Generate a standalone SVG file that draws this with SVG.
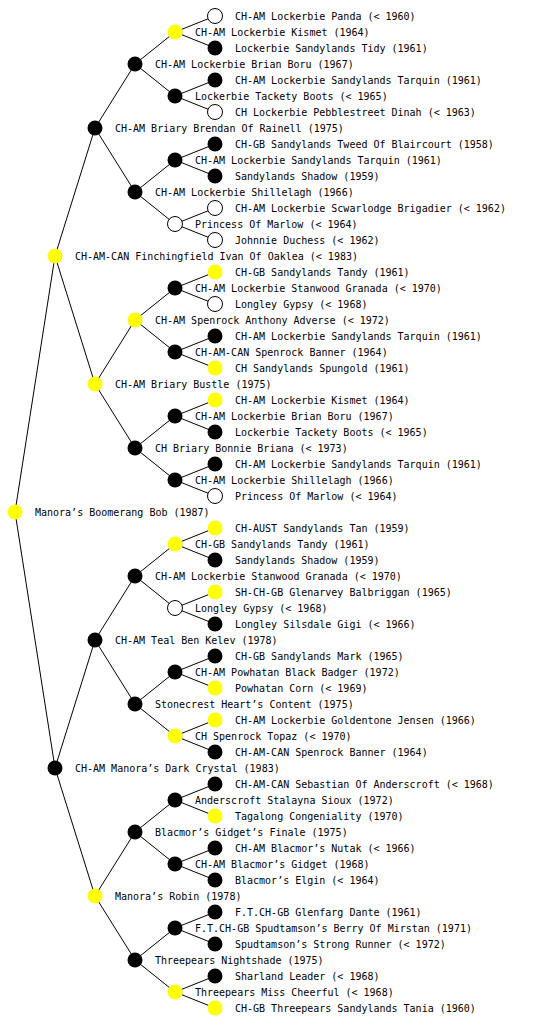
<svg xmlns="http://www.w3.org/2000/svg" width="560" height="1024" viewBox="0 0 560 1024">
<style>
.b{fill:#000}
.y{fill:#ffff00}
.o{fill:#fff;stroke:#000;stroke-width:1}
text{font-family:"DejaVu Sans Mono","Liberation Mono",monospace;font-size:10px;fill:#000}
.e{fill:none;stroke:#000;stroke-width:1}
</style>
<rect width="560" height="1024" fill="#fff"/>
<g id="connectors">
<path class="e" d="M15 512L55 256M15 512L55 768
M55 256L95 128M55 256L95 384M55 768L95 640M55 768L95 896
M95 128L135 64M95 128L135 192M95 384L135 320M95 384L135 448M95 640L135 576M95 640L135 704M95 896L135 832M95 896L135 960
M135 64L175 32M135 64L175 96M135 192L175 160M135 192L175 224M135 320L175 288M135 320L175 352M135 448L175 416M135 448L175 480
M135 576L175 544M135 576L175 608M135 704L175 672M135 704L175 736M135 832L175 800M135 832L175 864M135 960L175 928M135 960L175 992
M175 32L215 16M175 32L215 48M175 96L215 80M175 96L215 112M175 160L215 144M175 160L215 176M175 224L215 208M175 224L215 240
M175 288L215 272M175 288L215 304M175 352L215 336M175 352L215 368M175 416L215 400M175 416L215 432M175 480L215 464M175 480L215 496
M175 544L215 528M175 544L215 560M175 608L215 592M175 608L215 624M175 672L215 656M175 672L215 688M175 736L215 720M175 736L215 752
M175 800L215 784M175 800L215 816M175 864L215 848M175 864L215 880M175 928L215 912M175 928L215 944M175 992L215 976M175 992L215 1008"/>
</g>
<g id="n1"><circle class="o" cx="215" cy="16" r="7.5"/><text x="235" y="20">CH-AM Lockerbie Panda (&lt; 1960)</text></g>
<g id="n2"><circle class="y" cx="175" cy="32" r="7.5"/><text x="195" y="36">CH-AM Lockerbie Kismet (1964)</text></g>
<g id="n3"><circle class="b" cx="215" cy="48" r="7.5"/><text x="235" y="52">Lockerbie Sandylands Tidy (1961)</text></g>
<g id="n4"><circle class="b" cx="135" cy="64" r="7.5"/><text x="155" y="68">CH-AM Lockerbie Brian Boru (1967)</text></g>
<g id="n5"><circle class="b" cx="215" cy="80" r="7.5"/><text x="235" y="84">CH-AM Lockerbie Sandylands Tarquin (1961)</text></g>
<g id="n6"><circle class="b" cx="175" cy="96" r="7.5"/><text x="195" y="100">Lockerbie Tackety Boots (&lt; 1965)</text></g>
<g id="n7"><circle class="o" cx="215" cy="112" r="7.5"/><text x="235" y="116">CH Lockerbie Pebblestreet Dinah (&lt; 1963)</text></g>
<g id="n8"><circle class="b" cx="95" cy="128" r="7.5"/><text x="115" y="132">CH-AM Briary Brendan Of Rainell (1975)</text></g>
<g id="n9"><circle class="b" cx="215" cy="144" r="7.5"/><text x="235" y="148">CH-GB Sandylands Tweed Of Blaircourt (1958)</text></g>
<g id="n10"><circle class="b" cx="175" cy="160" r="7.5"/><text x="195" y="164">CH-AM Lockerbie Sandylands Tarquin (1961)</text></g>
<g id="n11"><circle class="b" cx="215" cy="176" r="7.5"/><text x="235" y="180">Sandylands Shadow (1959)</text></g>
<g id="n12"><circle class="b" cx="135" cy="192" r="7.5"/><text x="155" y="196">CH-AM Lockerbie Shillelagh (1966)</text></g>
<g id="n13"><circle class="o" cx="215" cy="208" r="7.5"/><text x="235" y="212">CH-AM Lockerbie Scwarlodge Brigadier (&lt; 1962)</text></g>
<g id="n14"><circle class="o" cx="175" cy="224" r="7.5"/><text x="195" y="228">Princess Of Marlow (&lt; 1964)</text></g>
<g id="n15"><circle class="o" cx="215" cy="240" r="7.5"/><text x="235" y="244">Johnnie Duchess (&lt; 1962)</text></g>
<g id="n16"><circle class="y" cx="55" cy="256" r="7.5"/><text x="75" y="260">CH-AM-CAN Finchingfield Ivan Of Oaklea (&lt; 1983)</text></g>
<g id="n17"><circle class="y" cx="215" cy="272" r="7.5"/><text x="235" y="276">CH-GB Sandylands Tandy (1961)</text></g>
<g id="n18"><circle class="b" cx="175" cy="288" r="7.5"/><text x="195" y="292">CH-AM Lockerbie Stanwood Granada (&lt; 1970)</text></g>
<g id="n19"><circle class="o" cx="215" cy="304" r="7.5"/><text x="235" y="308">Longley Gypsy (&lt; 1968)</text></g>
<g id="n20"><circle class="y" cx="135" cy="320" r="7.5"/><text x="155" y="324">CH-AM Spenrock Anthony Adverse (&lt; 1972)</text></g>
<g id="n21"><circle class="b" cx="215" cy="336" r="7.5"/><text x="235" y="340">CH-AM Lockerbie Sandylands Tarquin (1961)</text></g>
<g id="n22"><circle class="b" cx="175" cy="352" r="7.5"/><text x="195" y="356">CH-AM-CAN Spenrock Banner (1964)</text></g>
<g id="n23"><circle class="y" cx="215" cy="368" r="7.5"/><text x="235" y="372">CH Sandylands Spungold (1961)</text></g>
<g id="n24"><circle class="y" cx="95" cy="384" r="7.5"/><text x="115" y="388">CH-AM Briary Bustle (1975)</text></g>
<g id="n25"><circle class="y" cx="215" cy="400" r="7.5"/><text x="235" y="404">CH-AM Lockerbie Kismet (1964)</text></g>
<g id="n26"><circle class="b" cx="175" cy="416" r="7.5"/><text x="195" y="420">CH-AM Lockerbie Brian Boru (1967)</text></g>
<g id="n27"><circle class="b" cx="215" cy="432" r="7.5"/><text x="235" y="436">Lockerbie Tackety Boots (&lt; 1965)</text></g>
<g id="n28"><circle class="b" cx="135" cy="448" r="7.5"/><text x="155" y="452">CH Briary Bonnie Briana (&lt; 1973)</text></g>
<g id="n29"><circle class="b" cx="215" cy="464" r="7.5"/><text x="235" y="468">CH-AM Lockerbie Sandylands Tarquin (1961)</text></g>
<g id="n30"><circle class="b" cx="175" cy="480" r="7.5"/><text x="195" y="484">CH-AM Lockerbie Shillelagh (1966)</text></g>
<g id="n31"><circle class="o" cx="215" cy="496" r="7.5"/><text x="235" y="500">Princess Of Marlow (&lt; 1964)</text></g>
<g id="n32"><circle class="y" cx="15" cy="512" r="7.5"/><text x="35" y="516">Manora’s Boomerang Bob (1987)</text></g>
<g id="n33"><circle class="y" cx="215" cy="528" r="7.5"/><text x="235" y="532">CH-AUST Sandylands Tan (1959)</text></g>
<g id="n34"><circle class="y" cx="175" cy="544" r="7.5"/><text x="195" y="548">CH-GB Sandylands Tandy (1961)</text></g>
<g id="n35"><circle class="b" cx="215" cy="560" r="7.5"/><text x="235" y="564">Sandylands Shadow (1959)</text></g>
<g id="n36"><circle class="b" cx="135" cy="576" r="7.5"/><text x="155" y="580">CH-AM Lockerbie Stanwood Granada (&lt; 1970)</text></g>
<g id="n37"><circle class="y" cx="215" cy="592" r="7.5"/><text x="235" y="596">SH-CH-GB Glenarvey Balbriggan (1965)</text></g>
<g id="n38"><circle class="o" cx="175" cy="608" r="7.5"/><text x="195" y="612">Longley Gypsy (&lt; 1968)</text></g>
<g id="n39"><circle class="b" cx="215" cy="624" r="7.5"/><text x="235" y="628">Longley Silsdale Gigi (&lt; 1966)</text></g>
<g id="n40"><circle class="b" cx="95" cy="640" r="7.5"/><text x="115" y="644">CH-AM Teal Ben Kelev (1978)</text></g>
<g id="n41"><circle class="b" cx="215" cy="656" r="7.5"/><text x="235" y="660">CH-GB Sandylands Mark (1965)</text></g>
<g id="n42"><circle class="b" cx="175" cy="672" r="7.5"/><text x="195" y="676">CH-AM Powhatan Black Badger (1972)</text></g>
<g id="n43"><circle class="y" cx="215" cy="688" r="7.5"/><text x="235" y="692">Powhatan Corn (&lt; 1969)</text></g>
<g id="n44"><circle class="b" cx="135" cy="704" r="7.5"/><text x="155" y="708">Stonecrest Heart’s Content (1975)</text></g>
<g id="n45"><circle class="y" cx="215" cy="720" r="7.5"/><text x="235" y="724">CH-AM Lockerbie Goldentone Jensen (1966)</text></g>
<g id="n46"><circle class="y" cx="175" cy="736" r="7.5"/><text x="195" y="740">CH Spenrock Topaz (&lt; 1970)</text></g>
<g id="n47"><circle class="b" cx="215" cy="752" r="7.5"/><text x="235" y="756">CH-AM-CAN Spenrock Banner (1964)</text></g>
<g id="n48"><circle class="b" cx="55" cy="768" r="7.5"/><text x="75" y="772">CH-AM Manora’s Dark Crystal (1983)</text></g>
<g id="n49"><circle class="b" cx="215" cy="784" r="7.5"/><text x="235" y="788">CH-AM-CAN Sebastian Of Anderscroft (&lt; 1968)</text></g>
<g id="n50"><circle class="b" cx="175" cy="800" r="7.5"/><text x="195" y="804">Anderscroft Stalayna Sioux (1972)</text></g>
<g id="n51"><circle class="y" cx="215" cy="816" r="7.5"/><text x="235" y="820">Tagalong Congeniality (1970)</text></g>
<g id="n52"><circle class="b" cx="135" cy="832" r="7.5"/><text x="155" y="836">Blacmor’s Gidget’s Finale (1975)</text></g>
<g id="n53"><circle class="b" cx="215" cy="848" r="7.5"/><text x="235" y="852">CH-AM Blacmor’s Nutak (&lt; 1966)</text></g>
<g id="n54"><circle class="b" cx="175" cy="864" r="7.5"/><text x="195" y="868">CH-AM Blacmor’s Gidget (1968)</text></g>
<g id="n55"><circle class="b" cx="215" cy="880" r="7.5"/><text x="235" y="884">Blacmor’s Elgin (&lt; 1964)</text></g>
<g id="n56"><circle class="y" cx="95" cy="896" r="7.5"/><text x="115" y="900">Manora’s Robin (1978)</text></g>
<g id="n57"><circle class="b" cx="215" cy="912" r="7.5"/><text x="235" y="916">F.T.CH-GB Glenfarg Dante (1961)</text></g>
<g id="n58"><circle class="b" cx="175" cy="928" r="7.5"/><text x="195" y="932">F.T.CH-GB Spudtamson’s Berry Of Mirstan (1971)</text></g>
<g id="n59"><circle class="b" cx="215" cy="944" r="7.5"/><text x="235" y="948">Spudtamson’s Strong Runner (&lt; 1972)</text></g>
<g id="n60"><circle class="b" cx="135" cy="960" r="7.5"/><text x="155" y="964">Threepears Nightshade (1975)</text></g>
<g id="n61"><circle class="b" cx="215" cy="976" r="7.5"/><text x="235" y="980">Sharland Leader (&lt; 1968)</text></g>
<g id="n62"><circle class="y" cx="175" cy="992" r="7.5"/><text x="195" y="996">Threepears Miss Cheerful (&lt; 1968)</text></g>
<g id="n63"><circle class="y" cx="215" cy="1008" r="7.5"/><text x="235" y="1012">CH-GB Threepears Sandylands Tania (1960)</text></g>
</svg>
